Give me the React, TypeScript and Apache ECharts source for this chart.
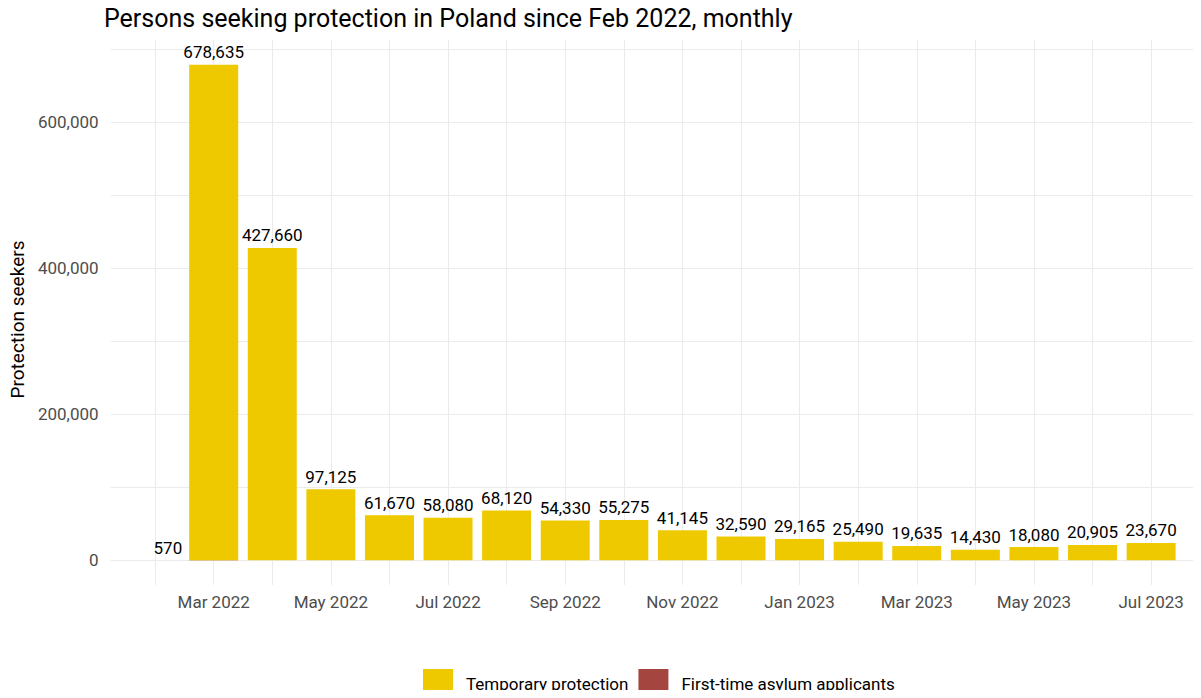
import React, { useEffect, useRef } from "react";
import * as echarts from "echarts";

const monthLabels = [
  "Feb 2022", "Mar 2022", "Apr 2022", "May 2022", "Jun 2022", "Jul 2022",
  "Aug 2022", "Sep 2022", "Oct 2022", "Nov 2022", "Dec 2022", "Jan 2023",
  "Feb 2023", "Mar 2023", "Apr 2023", "May 2023", "Jun 2023", "Jul 2023",
];
const temporaryProtection = [
  null, 678635, 427660, 97125, 61670, 58080, 68120, 54330, 55275, 41145,
  32590, 29165, 25490, 19635, 14430, 18080, 20905, 23670,
];
const firstTimeAsylum = [
  null, 570, null, null, null, null, null, null, null, null,
  null, null, null, null, null, null, null, null,
];
const xLabelIndices = [1, 3, 5, 7, 9, 11, 13, 15, 17];
const yGridValues = [0, 100000, 200000, 300000, 400000, 500000, 600000, 700000];
const yLabelValues = [0, 200000, 400000, 600000];

const fmt = (v: number) => v.toLocaleString("en-US");

export default function App() {
  const ref = useRef<HTMLDivElement>(null);
  useEffect(() => {
    if (!ref.current) return;
    const chart = echarts.init(ref.current, null, { renderer: "svg" });
    const idx = monthLabels.map((_, i) => i);
    chart.setOption({
      animation: false,
      backgroundColor: "#ffffff",
      title: {
        text: "Persons seeking protection in Poland since Feb 2022, monthly",
        left: 99,
        top: 1,
        textStyle: { fontFamily: "Roboto", fontSize: 25, fontWeight: "normal", color: "#000" },
      },
      legend: {
        data: ["Temporary protection", "First-time asylum applicants"],
        left: 418,
        top: 664,
        itemWidth: 30,
        itemHeight: 30,
        itemGap: 10,
        icon: "rect",
        textStyle: { fontFamily: "Roboto", fontSize: 17, color: "#000", padding: [0, 0, 0, 8] },
      },
      grid: { left: 103, right: 3, top: 40, bottom: 113, containLabel: false },
      xAxis: {
        type: "value",
        min: -0.76,
        max: 17.8,
        axisLine: { show: false },
        axisTick: { show: false, customValues: idx },
        axisLabel: {
          customValues: xLabelIndices,
          formatter: (v: number) => monthLabels[Math.round(v)] ?? "",
          color: "#4d4d4d",
          fontFamily: "Roboto",
          fontSize: 17,
          margin: 8,
        },
        splitLine: { show: true, lineStyle: { color: "#ebebeb", width: 1 } },
      },
      yAxis: {
        type: "value",
        min: -33900,
        max: 712500,
        name: "Protection seekers",
        nameLocation: "middle",
        nameGap: 81,
        nameTextStyle: { fontFamily: "Roboto", fontSize: 19, color: "#000", padding: [0, 14, 0, 0] },
        axisLine: { show: false },
        axisTick: { show: false, customValues: yGridValues },
        axisLabel: {
          customValues: yLabelValues,
          formatter: (v: number) => fmt(v),
          color: "#4d4d4d",
          fontFamily: "Roboto",
          fontSize: 17,
          margin: 12,
        },
        splitLine: { show: true, lineStyle: { color: "#ebebeb", width: 1 } },
      },
      series: [
        {
          name: "First-time asylum applicants",
          type: "bar",
          stack: "total",
          barWidth: 49,
          itemStyle: { color: "#A4463F" },
          data: firstTimeAsylum.map((v, i) => [i, v]),
          label: {
            show: true,
            position: "left",
            distance: 7,
            offset: [0, -12],
            formatter: (p: any) => (p.value[1] == null ? "" : fmt(p.value[1])),
            fontFamily: "Roboto",
            fontSize: 17,
            color: "#000",
          },
        },
        {
          name: "Temporary protection",
          type: "bar",
          stack: "total",
          barWidth: 49,
          itemStyle: { color: "#EEC900" },
          data: temporaryProtection.map((v, i) => [i, v]),
          label: {
            show: true,
            position: "top",
            distance: 4,
            formatter: (p: any) => (p.value[1] == null ? "" : fmt(p.value[1])),
            fontFamily: "Roboto",
            fontSize: 17,
            color: "#000",
          },
        },
      ],
    });
    return () => chart.dispose();
  }, []);
  return <div ref={ref} style={{ width: 1201, height: 698, margin: -8 }} />;
}
